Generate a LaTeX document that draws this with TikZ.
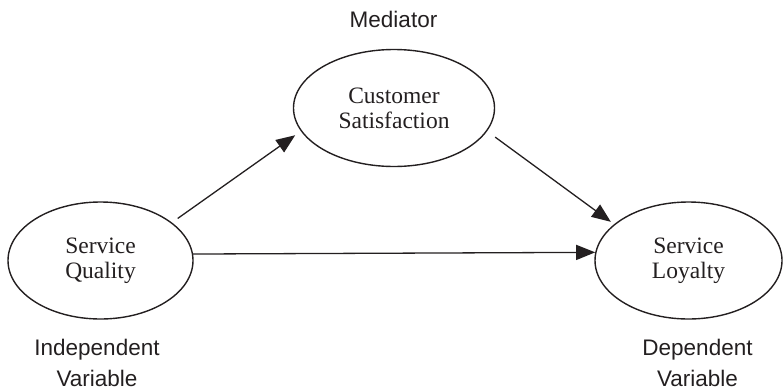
\documentclass[tikz,border=0pt]{standalone}
\usepackage{fontspec}
\setmainfont{Liberation Serif}
\setsansfont{Liberation Sans}
\usetikzlibrary{arrows.meta,positioning,shapes.geometric}

\begin{document}
\begin{tikzpicture}[
    x=1pt, y=-1pt,
    >={Triangle[length=19pt,width=15pt]},
    construct/.style={ellipse, draw=lineColor, line width=1.4pt, minimum width=185pt, minimum height=117pt,
        inner sep=0pt, align=center, font=\fontsize{23.5}{25}\selectfont, text=textColor},
    role/.style={align=center, font=\sffamily\fontsize{22.5}{31}\selectfont, text=textColor},
    link/.style={->, lineColor, line width=1.3pt}
    ]
    
    % Colors
    \definecolor{lineColor}{HTML}{231F20}
    \definecolor{textColor}{HTML}{231F20}
    
    % Frame
    \useasboundingbox (0,0) rectangle (783,391);
    
    % Constructs
    \node[construct] (sq) at (100.5,260.5) {Service\\Quality};
    \node[construct, minimum width=201pt] (cs) at (394,108) {Customer\\Satisfaction};
    \node[construct, minimum width=187pt] (sl) at (688.5,260.5) {Service\\Loyalty};
    
    % Roles
    \node[role, anchor=base] (med) at (393.5,27) {Mediator};
    \node[role] (iv) at (97,362.5) {Independent\\Variable};
    \node[role] (dv) at (697.5,362.5) {Dependent\\Variable};
    
    % Paths
    \draw[link, shorten <=7pt, shorten >=7pt] (sq.28) -- (cs.194);
    \draw[link, shorten <=10pt, shorten >=4pt] (cs.346) -- (sl.154);
    \draw[link] (sq.4.7) -- (sl.175.4);
\end{tikzpicture}
\end{document}
